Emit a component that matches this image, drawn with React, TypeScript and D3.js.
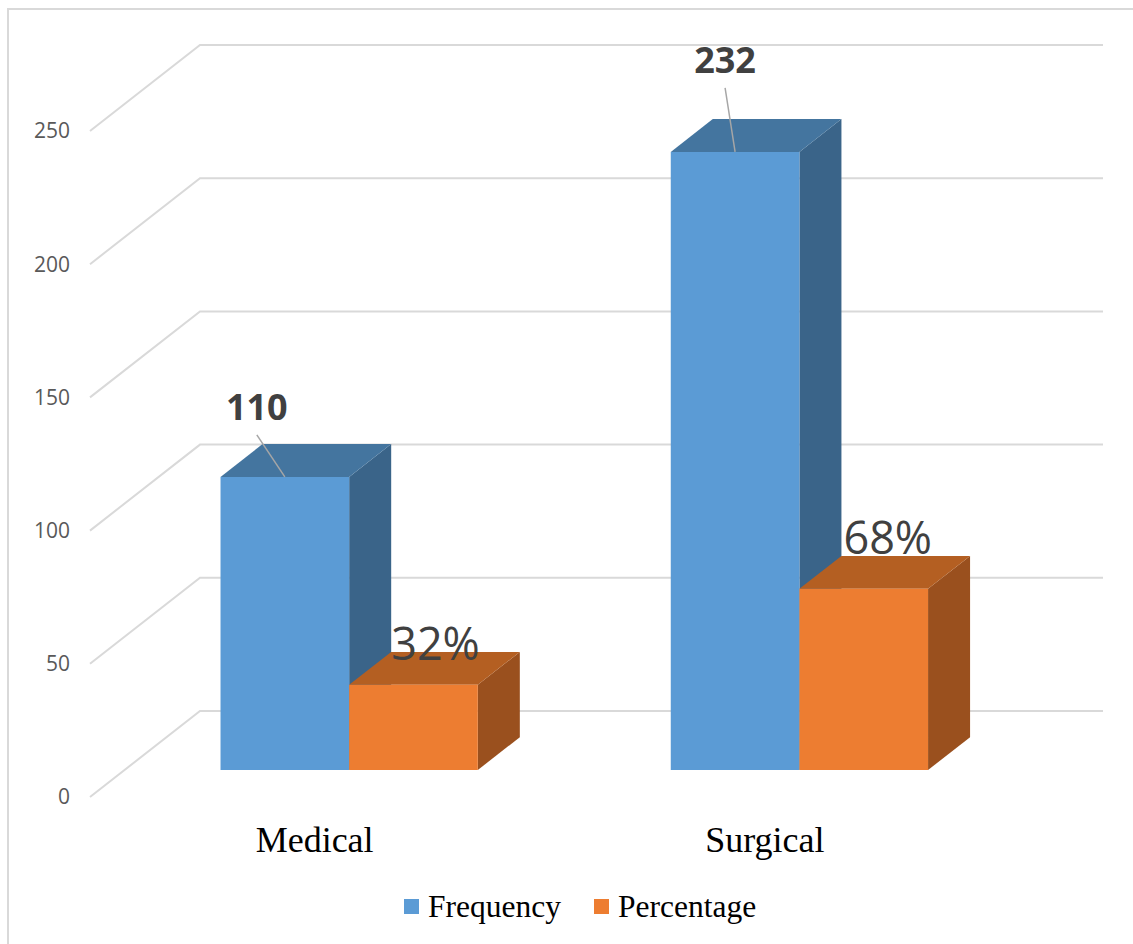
import React from 'react';
import * as d3 from 'd3';

const categories = ['Medical', 'Surgical'];
const seriesNames = ['Frequency', 'Percentage'];
const frequency = [110, 232];
const percentage = [32, 68];
const percentLabels = ['32%', '68%'];
const yTicks = [0, 50, 100, 150, 200, 250];

// leader-line / label nudges relative to each bar top (hand-placed in original)
const freqLabelOffsets = [[-28, -42], [-10, -64]];
const pctLabelOffsets = [[1, -8], [3, -18]];

const W = 1133;
const H = 944;
const Y0 = 797; // front floor line
const DX = 110; // depth shift
const DY = 86;
const D0 = 0.314; // bar front depth
const D1 = 0.696; // bar back depth
const WALL_X0 = 90;
const WALL_X1 = 993;

const colors = {
  Frequency: { front: '#5B9BD5', top: '#44759F', side: '#3A6489' },
  Percentage: { front: '#ED7D31', top: '#B45F22', side: '#9A501E' },
} as Record<string, { front: string; top: string; side: string }>;

const App = () => {
  const x0 = d3.scaleBand().domain(categories).range([89.5, 990]).padding(0);
  const x1 = d3.scaleBand().domain(seriesNames).range([0, x0.bandwidth()]).paddingInner(0).paddingOuter(0.75);
  const y = d3.scaleLinear().domain([0, 250]).range([0, 666]);

  const P = (x: number, v: number, d: number) => [x + DX * d, Y0 - y(v) - DY * d];
  const poly = (pts: number[][]) => pts.map(p => p.join(',')).join(' ');

  const bars: any[] = [];
  categories.forEach((c, i) => {
    [frequency[i], percentage[i]].forEach((v, j) => {
      const s = seriesNames[j];
      const xl = (x0(c) as number) + (x1(s) as number);
      const w = x1.bandwidth();
      bars.push({ key: c + s, s, v, xl, w, i });
    });
  });

  return (
    <svg width={W} height={H} style={{ position: 'absolute', left: 0, top: 0 }}>
      <rect x={8} y={9} width={W} height={H} fill="#fff" stroke="#D9D9D9" strokeWidth={2} />

      {/* walls */}
      {yTicks.map(t => {
        const f = P(WALL_X0, t, 0);
        const b = P(WALL_X0, t, 1);
        const e = P(WALL_X1, t, 1);
        return (
          <g key={t}>
            <polyline points={poly([f, b, e])} fill="none" stroke="#D9D9D9" strokeWidth={2} />
            <text x={70} y={f[1]} dy="0.35em" textAnchor="end" fontFamily="'Open Sans', sans-serif" fontSize={21} fill="#595959">
              {t}
            </text>
          </g>
        );
      })}

      {/* bars */}
      {bars.map(b => {
        const c = colors[b.s];
        const r = b.xl + b.w;
        return (
          <g key={b.key}>
            <polygon points={poly([P(r, 0, D0), P(r, 0, D1), P(r, b.v, D1), P(r, b.v, D0)])} fill={c.side} />
            <polygon points={poly([P(b.xl, b.v, D0), P(r, b.v, D0), P(r, b.v, D1), P(b.xl, b.v, D1)])} fill={c.top} />
            <polygon points={poly([P(b.xl, 0, D0), P(r, 0, D0), P(r, b.v, D0), P(b.xl, b.v, D0)])} fill={c.front} />
          </g>
        );
      })}

      {/* frequency labels with leader lines */}
      {categories.map((c, i) => {
        const xc = (x0(c) as number) + (x1('Frequency') as number) + x1.bandwidth() / 2;
        const [px, py] = P(xc, frequency[i], D0);
        const [ox, oy] = freqLabelOffsets[i];
        return (
          <g key={'fl' + c}>
            <line x1={px} y1={py} x2={px + ox} y2={py + oy} stroke="#A6A6A6" strokeWidth={1.5} />
            <text x={px + ox} y={py + oy - 15} textAnchor="middle" fontFamily="'Open Sans', sans-serif" fontWeight="bold" fontSize={36} fill="#404040">
              {frequency[i]}
            </text>
          </g>
        );
      })}

      {/* percentage labels */}
      {categories.map((c, i) => {
        const xc = (x0(c) as number) + (x1('Percentage') as number) + x1.bandwidth() / 2;
        const [px, py] = P(xc, percentage[i], (D0 + D1) / 2);
        const [ox, oy] = pctLabelOffsets[i];
        return (
          <text key={'pl' + c} x={px + ox} y={py + oy} textAnchor="middle" fontFamily="'Open Sans', sans-serif" fontSize={45} fill="#404040">
            {percentLabels[i]}
          </text>
        );
      })}

      {/* category labels */}
      {categories.map(c => (
        <text key={'c' + c} x={(x0(c) as number) + x0.bandwidth() / 2} y={852} textAnchor="middle" fontFamily="'Liberation Serif', serif" fontSize={36} fill="#000">
          {c}
        </text>
      ))}

      {/* legend */}
      {seriesNames.map((s, i) => {
        const lx = [404, 594][i];
        return (
          <g key={'lg' + s}>
            <rect x={lx} y={899} width={15} height={15} fill={colors[s].front} />
            <text x={lx + 24} y={917} fontFamily="'Liberation Serif', serif" fontSize={31.5} fill="#000">
              {s}
            </text>
          </g>
        );
      })}
    </svg>
  );
};

export default App;
